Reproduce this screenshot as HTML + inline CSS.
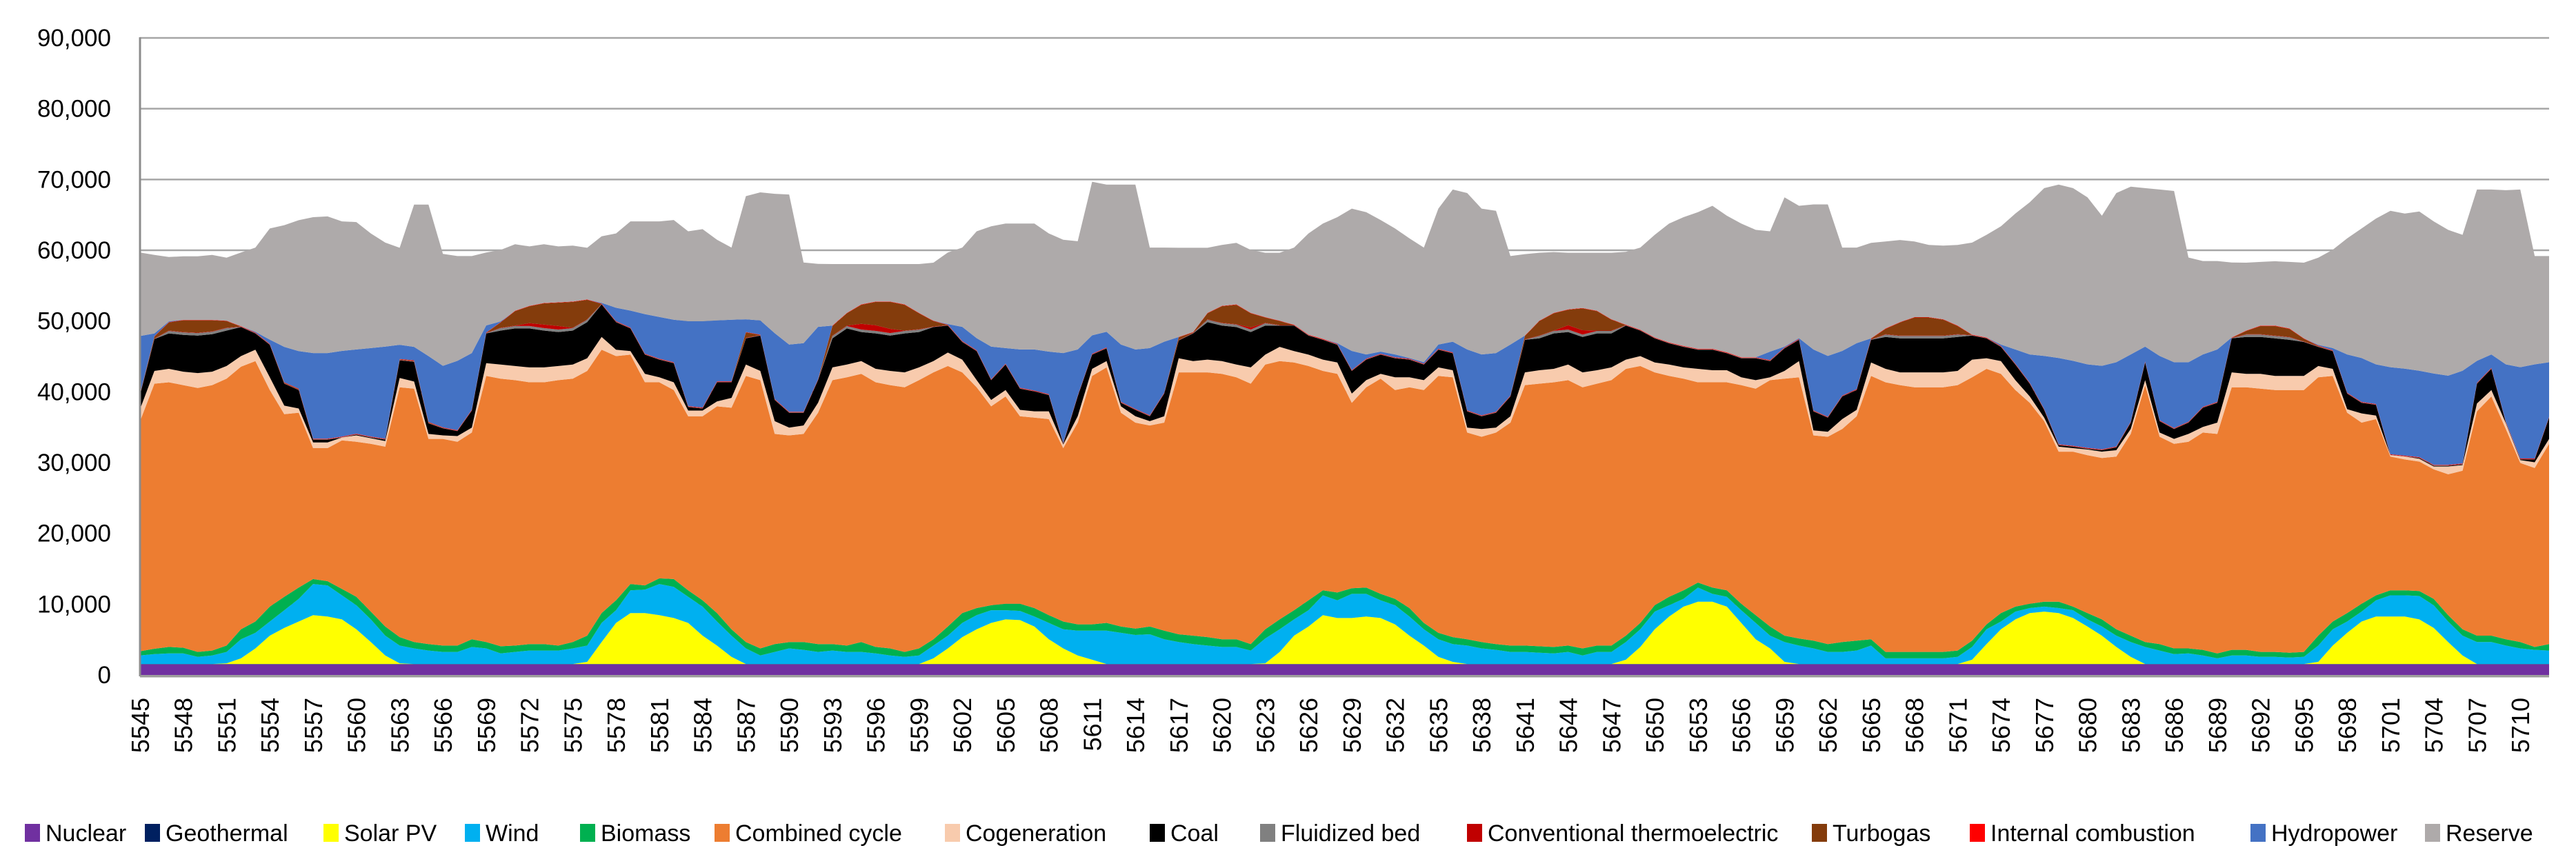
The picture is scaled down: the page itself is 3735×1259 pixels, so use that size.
<!DOCTYPE html>
<html><head><meta charset="utf-8"><style>
html,body{margin:0;padding:0;background:#fff;}
svg{display:block;}
text{font-family:"Liberation Sans",Arial,sans-serif;fill:#000;}
</style></head><body>
<svg id="chart" width="3735" height="1259" viewBox="0 0 3735 1259" xmlns="http://www.w3.org/2000/svg">
<rect x="0" y="0" width="3735" height="1259" fill="#fff"/>
<g id="grid"></g>
<g id="areas"></g>
<g id="axes"></g>
<g id="legend"></g>
</svg>
<script>
// values in thousands (stack boundaries)
const firstHour = 5545;
const yTicks = [0,10000,20000,30000,40000,50000,60000,70000,80000,90000];
const seriesNames = ["Nuclear","Geothermal","Solar PV","Wind","Biomass","Combined cycle","Cogeneration","Coal","Fluidized bed","Conventional thermoelectric","Turbogas","Internal combustion","Hydropower","Reserve"];
const seriesColors = ["#7030a0","#002060","#ffff00","#00b0f0","#00b050","#ed7d31","#f8cbad","#000000","#808080","#c00000","#843c0c","#ff0000","#4472c4","#aeaaaa"];
const nuclearLevel = 1.5;
const rows = [
[1.5,2.7,3.3,35.8,37.5,39.5,39.5,47.7,59.5],[1.5,2.9,3.65,41.1,42.9,47.4,47.8,48.2,59.3],[1.5,3.0,3.9,41.3,43.2,48.2,49.8,49.9,59.0],
[1.5,3.0,3.8,40.9,42.8,48.0,50.1,50.1,59.1],[1.5,2.5,3.2,40.5,42.6,47.9,50.1,50.1,59.1],[1.5,2.7,3.4,40.9,42.8,48.1,50.1,50.1,59.3],
[1.6,3.2,4.1,41.8,43.6,48.6,50.0,50.0,58.9],[2.3,5.0,6.4,43.5,45.0,49.1,49.2,49.2,59.6],[3.7,5.9,7.5,44.3,45.9,48.2,48.3,48.4,60.3],
[5.5,7.5,9.6,40.2,42.0,46.6,46.7,47.3,63.0],[6.6,9.1,11.0,36.8,38.0,41.1,41.3,46.3,63.5],[7.5,10.7,12.3,37.0,37.6,40.2,40.4,45.7,64.2],
[8.4,12.8,13.5,32.0,32.8,33.2,33.3,45.4,64.6],[8.2,12.6,13.2,32.0,32.8,33.2,33.3,45.4,64.7],[7.8,11.2,12.1,33.1,33.5,33.5,33.6,45.7,64.0],
[6.4,9.8,11.0,32.9,33.8,33.9,34.0,45.9,63.9],[4.6,7.8,8.9,32.6,33.4,33.5,33.6,46.1,62.3],[2.7,5.5,6.8,32.2,33.0,33.2,33.3,46.3,61.0],
[1.6,4.1,5.3,40.6,41.9,44.4,44.6,46.6,60.3],[1.5,3.7,4.6,40.4,41.4,44.2,44.4,46.3,66.4],[1.5,3.4,4.3,33.3,34.0,35.5,35.7,45.0,66.4],
[1.5,3.2,4.1,33.3,33.8,34.8,34.9,43.6,59.4],[1.5,3.2,4.1,32.9,33.7,34.4,34.5,44.3,59.1],[1.5,3.9,5.0,34.2,34.9,37.3,37.4,45.4,59.1],
[1.5,3.7,4.6,42.2,44.0,48.2,48.3,49.3,59.6],[1.5,3.0,4.0,41.8,43.8,48.6,49.8,49.9,60.0],[1.5,3.2,4.1,41.6,43.6,48.9,51.4,51.4,60.8],
[1.5,3.4,4.3,41.3,43.4,48.9,52.1,52.1,60.5],[1.5,3.4,4.3,41.3,43.4,48.6,52.5,52.5,60.8],[1.5,3.4,4.1,41.6,43.6,48.4,52.6,52.6,60.5],
[1.5,3.7,4.6,41.8,43.8,48.6,52.7,52.7,60.6],[1.8,4.1,5.5,42.9,44.7,49.8,53.0,53.0,60.3],[4.6,7.3,8.7,45.9,47.7,52.3,52.4,52.5,61.9],
[7.3,9.1,10.5,45.0,45.9,49.8,49.9,51.8,62.3],[8.7,11.9,12.8,45.2,45.7,48.9,49.0,51.4,64.0],[8.7,12.0,12.6,41.3,42.5,45.2,45.3,50.9,64.0],
[8.4,12.8,13.6,41.3,42.0,44.5,44.6,50.5,64.0],[8.0,12.4,13.5,40.2,41.3,44.0,44.1,50.1,64.2],[7.3,11.0,11.9,36.5,37.3,37.8,37.9,49.9,62.6],
[5.5,9.6,10.5,36.5,37.3,37.6,37.7,49.9,62.9],[4.1,7.5,8.7,37.9,38.6,41.3,41.4,50.0,61.4],[2.5,5.5,6.4,37.7,39.1,41.3,41.4,50.1,60.3],
[1.5,3.7,4.6,42.2,43.8,47.5,48.4,50.2,67.6],[1.5,2.7,3.7,41.6,42.9,47.9,48.0,50.0,68.1],[1.5,3.2,4.3,34.0,35.8,38.8,38.9,48.2,67.9],
[1.5,3.7,4.6,33.8,34.9,37.0,37.1,46.6,67.8],[1.5,3.5,4.6,34.0,35.2,37.0,37.1,46.8,58.2],[1.5,3.2,4.3,37.0,38.4,41.6,41.7,49.1,58.0],
[1.5,3.4,4.3,41.6,43.4,47.5,49.3,49.3,58.0],[1.5,3.2,4.1,42.0,43.8,48.9,51.1,51.1,58.0],[1.5,3.2,4.6,42.5,44.3,48.4,52.3,52.3,58.0],
[1.5,3.0,3.9,41.3,43.2,48.2,52.7,52.7,58.0],[1.5,2.7,3.7,40.9,42.9,47.9,52.7,52.7,58.0],[1.5,2.5,3.2,40.6,42.7,48.2,52.3,52.3,58.0],
[1.5,2.7,3.7,41.6,43.4,48.4,51.1,51.1,58.0],[2.3,4.1,5.0,42.7,44.3,49.1,50.0,50.0,58.2],[3.7,5.5,6.8,43.6,45.5,49.3,49.4,49.5,59.6],
[5.3,7.3,8.7,42.7,44.5,47.0,47.1,49.1,60.3],[6.4,8.4,9.4,40.6,41.6,45.7,45.8,47.5,62.6],[7.3,9.1,9.8,37.9,38.8,41.6,41.7,46.3,63.3],
[7.8,9.1,10.0,39.3,40.2,43.8,43.9,46.1,63.7],[7.7,9.0,10.0,36.5,37.4,40.4,40.5,45.9,63.7],[6.8,8.2,9.4,36.3,37.2,40.0,40.1,45.9,63.7],
[5.0,7.3,8.4,36.1,37.2,39.5,39.6,45.6,62.3],[3.7,6.4,7.5,32.0,32.5,32.6,32.7,45.4,61.4],[2.7,6.2,7.1,35.6,36.5,39.3,39.4,45.9,61.2],
[2.1,6.2,7.1,42.2,43.2,45.2,45.3,47.9,69.6],[1.5,6.2,7.3,43.4,44.3,46.1,46.2,48.4,69.2],[1.5,5.9,6.8,37.0,37.9,38.4,38.5,46.6,69.2],
[1.5,5.6,6.5,35.6,36.5,37.4,37.5,45.9,69.2],[1.5,5.7,6.8,35.2,35.8,36.5,36.6,46.1,60.3],[1.5,5.0,6.2,35.6,36.5,39.7,39.8,47.0,60.3],
[1.5,4.6,5.7,42.7,44.7,47.2,47.7,47.7,60.3],[1.5,4.3,5.5,42.7,44.3,48.2,48.4,48.4,60.3],[1.5,4.1,5.3,42.7,44.5,49.8,51.1,51.1,60.3],
[1.5,3.9,5.0,42.5,44.3,49.3,52.1,52.1,60.7],[1.5,3.9,5.0,42.0,43.8,49.1,52.3,52.3,61.0],[1.5,3.4,4.3,41.1,43.4,48.4,51.1,51.1,60.0],
[1.6,5.1,6.4,43.8,45.2,49.3,50.5,50.5,59.6],[3.2,6.4,7.8,44.3,46.3,49.3,50.0,50.0,59.6],[5.5,7.8,9.1,44.1,45.7,49.3,49.4,49.4,60.3],
[6.8,9.1,10.5,43.6,45.2,47.9,48.0,48.0,62.3],[8.4,11.2,11.9,42.9,44.5,47.3,47.4,47.4,63.7],[8.0,10.5,11.6,42.5,44.1,46.6,46.7,46.8,64.6],
[8.0,11.4,12.2,38.4,39.7,42.9,43.0,45.7,65.8],[8.2,11.4,12.3,40.6,41.6,44.5,44.6,45.2,65.3],[8.0,10.5,11.4,41.8,42.5,45.2,45.3,45.6,64.2],
[7.1,9.8,10.7,40.2,42.0,44.7,44.8,45.2,63.0],[5.5,8.2,9.4,40.6,42.0,44.5,44.6,44.7,61.6],[4.1,6.4,7.3,40.2,41.6,43.8,43.9,44.1,60.3],
[2.5,5.0,5.9,42.2,43.4,45.9,46.0,46.6,65.8],[1.8,4.3,5.3,42.0,43.0,45.4,45.5,47.0,68.5],[1.5,4.1,5.0,34.2,34.9,37.2,37.3,45.9,68.0],
[1.5,3.7,4.6,33.6,34.7,36.5,36.6,45.2,65.8],[1.5,3.5,4.3,34.2,34.9,37.0,37.1,45.4,65.5],[1.5,3.2,4.1,35.6,36.5,39.3,39.4,46.6,59.1],
[1.5,3.2,4.1,40.9,42.7,47.3,47.9,47.9,59.4],[1.5,3.1,4.0,41.1,43.0,47.5,50.0,50.0,59.6],[1.5,3.0,3.9,41.3,43.2,48.2,51.1,51.1,59.7],
[1.5,3.2,4.1,41.6,43.8,48.4,51.6,51.6,59.6],[1.5,2.7,3.7,40.6,42.7,47.7,51.8,51.8,59.6],[1.5,3.2,4.1,41.1,43.0,48.2,51.4,51.4,59.6],
[1.5,3.2,4.1,41.6,43.4,48.2,50.2,50.2,59.6],[2.1,4.6,5.5,43.2,44.5,49.3,49.4,49.4,59.7],[3.9,6.4,7.3,43.6,45.0,48.6,48.7,48.7,60.3],
[6.4,8.9,9.8,42.7,44.1,47.5,47.6,47.6,62.1],[8.2,9.8,11.0,42.2,43.8,46.8,46.9,46.9,63.7],[9.6,10.7,11.9,41.8,43.4,46.3,46.4,46.4,64.6],
[10.3,12.3,13.0,41.3,43.2,45.9,46.0,46.0,65.3],[10.3,11.4,12.3,41.3,43.0,45.9,46.0,46.0,66.2],[9.6,11.0,11.9,41.3,43.0,45.4,45.5,45.5,64.8],
[7.3,9.1,10.0,40.9,42.0,44.7,44.8,44.8,63.7],[5.0,7.3,8.4,40.4,41.6,44.7,44.8,44.8,62.8],[3.7,5.5,6.8,41.6,42.0,44.3,44.4,45.6,62.6],
[1.8,4.6,5.5,41.8,42.9,46.1,46.2,46.3,67.4],[1.5,4.1,5.1,42.0,44.3,47.3,47.4,47.5,66.2],[1.5,3.7,4.8,33.8,34.5,37.2,37.3,45.9,66.4],
[1.5,3.2,4.3,33.6,34.3,36.3,36.4,45.0,66.4],[1.5,3.2,4.6,34.7,36.1,39.3,39.4,45.7,60.3],[1.5,3.4,4.8,36.5,37.4,40.2,40.3,46.8,60.3],
[1.5,4.1,5.0,42.2,44.1,47.3,47.5,47.5,61.0],[1.5,2.3,3.2,41.3,43.2,47.7,48.9,48.9,61.2],[1.5,2.3,3.2,40.9,42.7,47.5,49.8,49.8,61.4],
[1.5,2.3,3.2,40.6,42.7,47.5,50.5,50.5,61.2],[1.5,2.3,3.2,40.6,42.7,47.5,50.5,50.5,60.7],[1.5,2.3,3.2,40.6,42.7,47.5,50.2,50.2,60.6],
[1.5,2.5,3.4,40.9,42.9,47.7,49.3,49.3,60.7],[2.1,3.9,4.8,42.0,44.5,47.9,48.0,48.0,61.0],[4.3,6.4,7.1,43.2,44.7,47.5,47.6,47.6,62.1],
[6.4,7.5,8.7,42.5,44.3,46.3,46.4,46.6,63.3],[7.8,8.9,9.6,40.2,41.6,43.8,43.9,45.9,65.1],[8.7,9.4,10.0,38.4,39.3,41.1,41.2,45.2,66.7],
[8.9,9.6,10.3,35.8,36.3,37.4,37.5,45.0,68.7],[8.7,9.4,10.3,31.5,32.2,32.4,32.5,44.7,69.2],[8.0,9.1,9.6,31.5,32.0,32.2,32.3,44.3,68.7],
[6.8,7.8,8.7,31.0,31.8,31.9,32.0,43.8,67.4],[5.5,6.8,7.8,30.6,31.5,31.7,31.8,43.6,64.8],[3.9,5.5,6.4,30.8,31.7,32.1,32.2,44.1,68.0],
[2.5,4.6,5.5,34.0,34.7,35.6,35.7,45.2,68.9],[1.5,3.9,4.6,40.9,41.6,44.1,44.2,46.3,68.7],[1.5,3.4,4.3,33.6,34.2,35.8,35.9,45.0,68.5],
[1.5,2.9,3.7,32.6,33.3,34.7,34.8,44.1,68.3],[1.5,3.0,3.7,32.9,34.0,35.6,35.7,44.1,58.9],[1.5,2.7,3.5,34.2,35.0,37.7,37.8,45.2,58.4],
[1.5,2.3,3.0,34.0,35.6,38.4,38.5,45.9,58.4],[1.5,2.7,3.5,40.6,42.7,47.5,47.6,47.6,58.2],[1.5,2.7,3.5,40.6,42.5,47.7,48.6,48.6,58.2],
[1.5,2.5,3.2,40.4,42.5,47.7,49.3,49.3,58.3],[1.5,2.5,3.2,40.2,42.2,47.5,49.3,49.3,58.4],[1.5,2.4,3.1,40.2,42.2,47.3,48.9,48.9,58.3],
[1.5,2.5,3.2,40.2,42.2,47.0,47.5,47.5,58.2],[1.8,4.1,5.5,42.0,43.6,46.3,46.5,46.6,58.9],[4.1,6.4,7.5,42.2,43.2,45.7,45.8,46.1,60.0],
[5.9,7.5,8.7,37.0,37.5,39.7,39.8,45.2,61.6],[7.5,8.9,10.0,35.6,36.9,38.4,38.5,44.7,63.0],[8.2,10.5,11.2,36.1,36.6,38.1,38.2,43.8,64.4],
[8.2,11.2,11.9,30.8,31.0,31.0,31.1,43.4,65.5],[8.2,11.2,11.9,30.4,30.8,30.8,30.9,43.2,65.1],[7.8,11.1,11.8,30.1,30.5,30.6,30.7,42.9,65.4],
[6.6,9.8,10.7,29.0,29.4,29.5,29.6,42.5,64.0],[4.6,7.5,8.4,28.3,29.4,29.5,29.6,42.2,62.8],[2.7,5.5,6.4,28.8,29.6,29.7,29.8,42.9,62.1],
[1.5,4.6,5.5,37.2,38.3,41.1,41.2,44.3,68.5],[1.5,4.6,5.5,39.3,40.2,43.2,43.3,45.2,68.5],[1.5,4.1,5.0,34.7,35.5,35.6,35.7,43.8,68.4],
[1.5,3.7,4.6,29.9,30.3,30.4,30.5,43.4,68.5],[1.5,3.5,3.9,29.2,30.0,30.4,30.5,43.8,59.1],[1.5,3.4,4.3,32.6,33.3,36.3,36.4,44.1,59.1]
];
const fluidizedBedHours = [2,3,4,5,6,25,26,27,28,29,30,31,48,49,50,51,52,53,54,74,75,76,77,78,97,98,99,100,101,102,121,122,123,124,125,126,146,147,148,149];
const conventionalThermoHours = [27,28,29,50,51,52,77,99,100];
const conventionalThermoValues = [0.4,0.5,0.5,0.8,0.8,0.6,0.3,0.6,0.6];

const X0=203, X1=3696, Y0=979, Y90=55;
const N = rows.length;
function xPos(i){return X0 + i*(X1-X0)/(N-1);}
function yPos(k){return Y0 - k*(Y0-Y90)/90;}

const series = seriesNames.map(()=>[]);
for(let i=0;i<N;i++){
  const r=rows[i];
  const nuc=nuclearLevel, geo=0.05;
  const solar=Math.max(0,r[0]-nuc), wind=Math.max(0,r[1]-r[0]), bio=Math.max(0,r[2]-r[1]);
  const cc=r[3]-r[2], cog=r[4]-r[3], coal=r[5]-r[4];
  const misc=r[6]-r[5];
  let fb = fluidizedBedHours.indexOf(i)>=0 ? 0.35 : 0.03;
  const ci = conventionalThermoHours.indexOf(i);
  let ct = ci>=0 ? conventionalThermoValues[ci] : 0.05;
  let ic = 0.05;
  let tg = Math.max(0, misc-fb-ct-ic);
  const hyd=r[7]-r[6], res=r[8]-r[7];
  const vals=[nuc,geo,solar,wind,bio,cc,cog,coal,fb,ct,tg,ic,hyd,res];
  vals.forEach((v,s)=>series[s].push(v));
}

const NS="http://www.w3.org/2000/svg";
function mk(tag,attrs,parent){const e=document.createElementNS(NS,tag);for(const k in attrs)e.setAttribute(k,attrs[k]);parent.appendChild(e);return e;}

const grid=document.getElementById('grid');
yTicks.forEach(t=>{
  const y=yPos(t/1000);
  const l=mk('line',{x1:X0,x2:X1,y1:y,y2:y,stroke:'#a6a6a6','stroke-width':2.5},grid);
  
  
});

const areas=document.getElementById('areas');
const base=new Array(N).fill(0);
series.forEach((vals,s)=>{
  const top=vals.map((v,i)=>base[i]+v);
  let d='M'+xPos(0)+','+yPos(top[0]);
  for(let i=1;i<N;i++) d+='L'+xPos(i).toFixed(1)+','+yPos(top[i]).toFixed(1);
  for(let i=N-1;i>=0;i--) d+='L'+xPos(i).toFixed(1)+','+yPos(base[i]).toFixed(1);
  d+='Z';
  const p=mk('path',{d:d,fill:seriesColors[s]},areas);
  
  
  for(let i=0;i<N;i++) base[i]=top[i];
});

const axes=document.getElementById('axes');
const ya=mk('line',{x1:X0,x2:X0,y1:Y90-1,y2:Y0+2,stroke:'#8c8c8c','stroke-width':3},axes);


const xa=mk('line',{x1:X0,x2:X1,y1:Y0+2,y2:Y0+2,stroke:'#9a9a9a','stroke-width':3},axes);


yTicks.forEach(t=>{
  const tx=mk('text',{x:161,y:yPos(t/1000)+12,'text-anchor':'end','font-size':35},axes);
  tx.textContent=t.toLocaleString('en-US');
  
  
});
for(let i=0;i<N;i+=3){
  const x=xPos(i)+13, y=1012;
  const tx=mk('text',{x:x,y:y,'text-anchor':'end','font-size':36,transform:'rotate(-90 '+x+' '+y+')'},axes);
  tx.textContent=String(firstHour+i);
  
  
}

const legend=document.getElementById('legend');
const legendX=[36,210,469,674,841,1036,1370,1667,1827,2127,2627,2856,3263,3516,3722];
seriesNames.forEach((n,s)=>{
  const g=mk('g',{},legend);
  
  
  const sq=mk('rect',{x:legendX[s],y:1195,width:22,height:26,fill:seriesColors[s]},g);
  
  
  const w=legendX[s+1]-legendX[s]-44;
  const tx=mk('text',{x:legendX[s]+30,y:1220,'font-size':34},g);
  tx.textContent=n;
  
  
  if(tx.getComputedTextLength()>w){
    tx.setAttribute('textLength',w);
    tx.setAttribute('lengthAdjust','spacingAndGlyphs');
  }
});
</script>
</body></html>
